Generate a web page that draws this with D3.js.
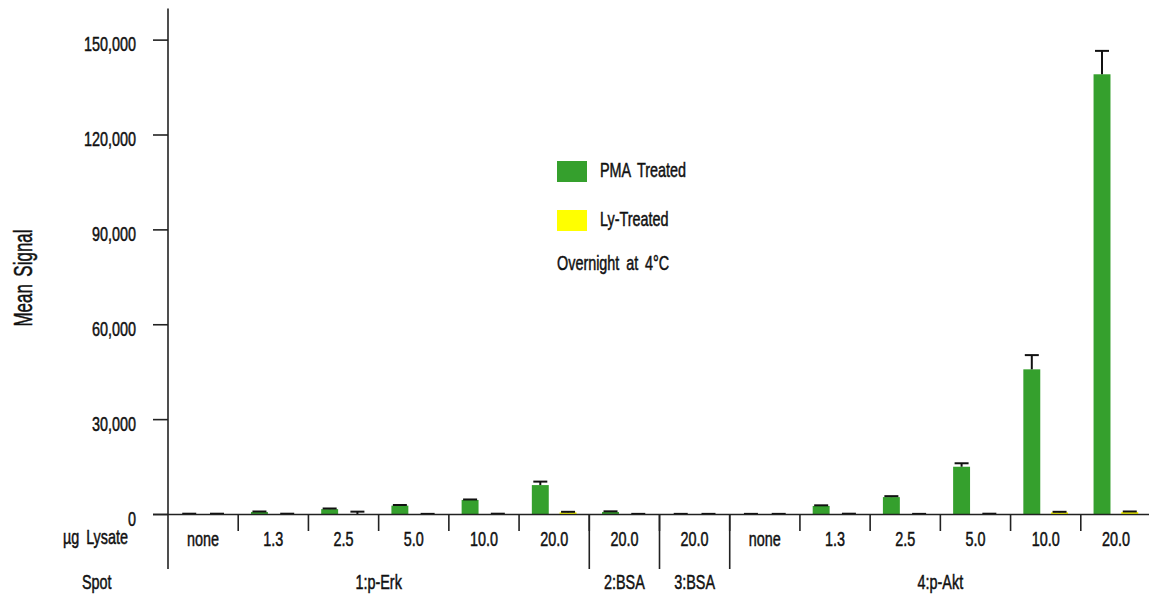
<!DOCTYPE html>
<html>
<head>
<meta charset="utf-8">
<script src="https://cdn.jsdelivr.net/npm/d3@7"></script>
<style>
  body { margin: 0; background: #fff; }
  text { font-family: "Liberation Sans", Arial, sans-serif; font-size: 20px; fill: #111; stroke: #111; stroke-width: 0.5px; word-spacing: 4px; }
</style>
</head>
<body>
<div id="chart"></div>
<script>
// lysate amount per column
const lysate = ["none", "1.3", "2.5", "5.0", "10.0", "20.0", "20.0", "20.0", "none", "1.3", "2.5", "5.0", "10.0", "20.0"];
// spots and how many columns each one covers
const spotNames = ["1:p-Erk", "2:BSA", "3:BSA", "4:p-Akt"];
const spotSizes = [6, 1, 1, 6];

const pma    = [150, 800, 1700, 2800, 4600, 9300, 800, 100, 100, 2700, 5500, 15100, 45900, 139200];
const pmaErr = [100, 150, 200, 200, 150, 1100, 200, 100, 100, 200, 300, 1100, 4500, 7400];
const ly     = [150, 150, 100, 100, 150, 700, 100, 100, 100, 150, 100, 150, 700, 800];
const lyErr  = [100, 100, 800, 100, 100, 150, 100, 100, 100, 100, 100, 100, 150, 150];

const yTicks = [0, 30000, 60000, 90000, 120000, 150000];
const series = ["PMA Treated", "Ly-Treated"];
const colors = ["#35a02d", "#ffff00"];

let width = 1149, height = 599;
let plotLeft = 168, plotRight = 1151, base = 514.5, plotTop = 8.5;
let squeeze = 0.72;   // narrow the font, the original uses a condensed face

let svg = d3.select("#chart").append("svg")
    .attr("width", width)
    .attr("height", height);

// text drawn narrower than the installed fonts
function label(parent, px, py, str, anchor, extra, sx) {
    let g = parent.append("g")
        .attr("transform", "translate(" + px + "," + py + ")" + (extra || "") + " scale(" + (sx || squeeze) + ",1)");
    return g.append("text")
        .attr("text-anchor", anchor || "start")
        .text(str);
}

let idx = d3.range(lysate.length);

let x = d3.scaleBand().domain(idx).range([plotLeft, plotRight]);
let x1 = d3.scaleBand().domain([0, 1]).range([0, x.bandwidth()])
    .paddingInner(0.39).paddingOuter(0.46);
let y = d3.scaleLinear().domain([0, 160000]).range([base, plotTop]);

// bars
let vals = [pma, ly], errs = [pmaErr, lyErr];
vals.forEach(function (arr, s) {
    let g = svg.append("g");
    g.selectAll("rect").data(idx).enter().append("rect")
        .attr("x", d => x(d) + x1(s))
        .attr("width", x1.bandwidth())
        .attr("y", d => y(arr[d]))
        .attr("height", d => base - y(arr[d]))
        .style("fill", colors[s]);

    // error bars
    let e = svg.append("g").attr("stroke", "#111").attr("stroke-width", 2);
    idx.forEach(function (d) {
        let cx = x(d) + x1(s) + x1.bandwidth() / 2;
        let yt = y(arr[d] + errs[s][d]);
        e.append("line").attr("x1", cx).attr("x2", cx).attr("y1", y(arr[d])).attr("y2", yt);
        e.append("line").attr("x1", cx - 7).attr("x2", cx + 7).attr("y1", yt).attr("y2", yt);
    });
});

// y axis
let yAxis = svg.append("g").attr("stroke", "#222").attr("stroke-width", 1.6);
yAxis.append("line").attr("x1", plotLeft).attr("x2", plotLeft).attr("y1", plotTop).attr("y2", 569);
yAxis.append("line").attr("x1", 153).attr("x2", width).attr("y1", base).attr("y2", base);
yAxis.selectAll(".tick").data(yTicks).enter().append("line")
    .attr("x1", 153).attr("x2", plotLeft)
    .attr("y1", d => y(d)).attr("y2", d => y(d));

let yLabels = svg.append("g");
yTicks.forEach(function (t) {
    label(yLabels, 136, y(t) + 11, d3.format(",")(t), "end");
});

label(svg, 32, 278, "Mean Signal", "middle", " rotate(-90)", 0.68)
    .style("font-size", "25px");

// column separators and lysate labels
let sep = svg.append("g").attr("stroke", "#222").attr("stroke-width", 1.6);
idx.slice(1).forEach(function (d) {
    sep.append("line").attr("x1", x(d)).attr("x2", x(d)).attr("y1", base).attr("y2", 531);
});

let xLabels = svg.append("g");
idx.forEach(function (d) {
    label(xLabels, x(d) + x.bandwidth() / 2, 546, lysate[d], "middle");
});

label(svg, 128, 544, "\u00b5g Lysate", "end");
label(svg, 82, 589, "Spot");

// spot groups
let pos = 0;
spotNames.forEach(function (name, i) {
    let x0 = x(pos), xEnd = pos + spotSizes[i] < lysate.length ? x(pos + spotSizes[i]) : plotRight;
    sep.append("line").attr("x1", xEnd).attr("x2", xEnd).attr("y1", base).attr("y2", 569);
    label(svg, (x0 + xEnd) / 2, 589, name, "middle");
    pos += spotSizes[i];
});

// legend
let legend = svg.append("g").attr("transform", "translate(557,161)");
series.forEach(function (s, i) {
    legend.append("rect").attr("x", 0).attr("y", i * 49).attr("width", 30).attr("height", 21).style("fill", colors[i]);
    label(legend, 43, i * 49 + 16, s);
});
label(legend, 0, 109, "Overnight at 4\u00b0C");
</script>
</body>
</html>
